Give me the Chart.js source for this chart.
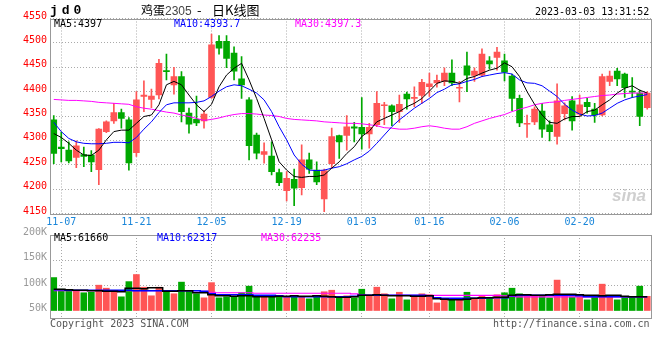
<!DOCTYPE html>
<html>
<head>
<meta charset="utf-8">
<script src="https://cdn.jsdelivr.net/npm/chart.js@4.4.1/dist/chart.umd.min.js"></script>
<style>
  body { margin: 0; background: #fff; }
  #wrap { position: relative; width: 660px; height: 360px; overflow: hidden; font-family: "DejaVu Sans Mono", monospace; font-size: 10px; }
  canvas { position: absolute; left: 0; }
  .t { position: absolute; white-space: nowrap; line-height: 12px; }
</style>
</head>
<body>
<div id="wrap">
  <canvas id="kline" width="660" height="232" style="top:0"></canvas>
  <canvas id="vol" width="660" height="108" style="top:220px"></canvas>

  <div class="t" style="left:50px;top:4px;font:bold 13px 'Liberation Mono';letter-spacing:4px;line-height:13px">jd0</div>
  <div class="t" style="left:141px;top:3px;font:12px 'Noto Sans CJK SC';line-height:14px">鸡蛋<span style="font:12px 'Liberation Sans';color:#444">2305</span></div>
  <div class="t" style="left:197px;top:3px;font:13px 'Noto Sans CJK SC';line-height:14px">-</div>
  <div class="t" style="left:212px;top:3px;font:13px 'Noto Sans CJK SC';line-height:14px">日K线图</div>
  <div class="t" style="left:535px;top:6px">2023-03-03 13:31:52</div>

  <div class="t" style="left:54px;top:18px;color:#000">MA5:4397</div>
  <div class="t" style="left:174px;top:18px;color:#0000ff">MA10:4393.7</div>
  <div class="t" style="left:295px;top:18px;color:#ff00ff">MA30:4397.3</div>

  <div class="t" style="left:54px;top:232px;color:#000">MA5:61660</div>
  <div class="t" style="left:157px;top:232px;color:#0000ff">MA10:62317</div>
  <div class="t" style="left:261px;top:232px;color:#ff00ff">MA30:62235</div>

  <div class="t" style="left:612px;top:186px;font:italic bold 17px 'Liberation Sans';color:#cfcfcf">sina</div>

  <div class="t" style="left:50px;top:318px;color:#555">Copyright 2023 SINA.COM</div>
  <div class="t" style="left:493px;top:318px;color:#555">http://finance.sina.com.cn</div>
</div>
<script>
// trading days 2022-11-04 .. 2023-03-03
const dates = [
  "11-04","11-07","11-08","11-09","11-10","11-11","11-14","11-15","11-16","11-17",
  "11-18","11-21","11-22","11-23","11-24","11-25","11-28","11-29","11-30","12-01",
  "12-02","12-05","12-06","12-07","12-08","12-09","12-12","12-13","12-14","12-15",
  "12-16","12-19","12-20","12-21","12-22","12-23","12-26","12-27","12-28","12-29",
  "12-30","01-03","01-04","01-05","01-06","01-09","01-10","01-11","01-12","01-13",
  "01-16","01-17","01-18","01-19","01-20","01-30","01-31","02-01","02-02","02-03",
  "02-06","02-07","02-08","02-09","02-10","02-13","02-14","02-15","02-16","02-17",
  "02-20","02-21","02-22","02-23","02-24","02-27","02-28","03-01","03-02","03-03"
];
const tickLabels = ["11-07","11-21","12-05","12-19","01-03","01-16","02-06","02-20"];

const open = [
  4342,4286,4280,4265,4271,4270,4240,4318,4340,4357, 4342,4275,4390,4384,4393,4443,4414,4431,4356,4343,
  4340,4388,4503,4503,4479,4426,4383,4311,4271,4268, 4234,4197,4220,4203,4260,4239,4180,4252,4310,4310,
  4328,4327,4313,4332,4371,4371,4359,4395,4386,4392, 4410,4418,4421,4438,4407,4453,4433,4434,4463,4470,
  4463,4432,4386,4333,4338,4360,4332,4308,4355,4381, 4354,4378,4364,4352,4421,4442,4436,4401,4397,4367
];
const high = [
  4351,4317,4297,4299,4286,4279,4324,4340,4376,4364, 4347,4400,4422,4405,4466,4477,4450,4441,4366,4391,
  4361,4518,4515,4515,4492,4472,4388,4315,4295,4297, 4241,4236,4241,4291,4274,4256,4241,4325,4311,4351,
  4337,4388,4335,4400,4378,4373,4393,4399,4410,4425, 4438,4434,4449,4465,4421,4481,4449,4488,4472,4491,
  4477,4436,4393,4352,4369,4376,4340,4416,4377,4390, 4393,4386,4376,4436,4442,4448,4438,4429,4403,4400
];
const low = [
  4252,4256,4254,4244,4246,4236,4209,4316,4335,4325, 4239,4267,4359,4367,4385,4424,4395,4338,4315,4330,
  4325,4386,4477,4449,4424,4386,4260,4262,4253,4229, 4207,4176,4166,4188,4232,4209,4154,4243,4263,4280,
  4297,4282,4284,4328,4332,4330,4337,4364,4369,4376, 4390,4409,4412,4412,4379,4400,4421,4431,4446,4444,
  4422,4361,4328,4306,4332,4306,4299,4292,4342,4321, 4349,4356,4337,4350,4412,4412,4388,4388,4330,4364
];
const close = [
  4273,4283,4258,4289,4267,4256,4323,4338,4357,4345, 4254,4383,4393,4391,4458,4441,4431,4359,4333,4336,
  4354,4496,4489,4468,4442,4414,4289,4274,4277,4236, 4213,4222,4202,4260,4241,4215,4238,4308,4297,4328,
  4325,4313,4327,4376,4372,4359,4374,4385,4388,4419, 4416,4423,4438,4418,4409,4434,4442,4477,4457,4481,
  4440,4386,4336,4334,4364,4323,4318,4381,4371,4340, 4373,4369,4352,4431,4432,4426,4408,4399,4349,4397
];
const ma5 = [
  4314,4306,4294,4280,4270,4269,4280,4301,4318,4321, 4321,4335,4349,4352,4373,4414,4421,4414,4393,4373,
  4359,4374,4410,4434,4448,4458,4424,4386,4345,4301, 4256,4239,4226,4224,4226,4226,4229,4243,4256,4273,
  4287,4308,4319,4338,4345,4352,4359,4369,4376,4386, 4401,4417,4422,4421,4417,4427,4431,4438,4444,4448,
  4459,4451,4431,4400,4374,4352,4337,4335,4344,4349, 4349,4359,4362,4373,4383,4397,4407,4412,4403,4397
];
const ma10 = [
  4337,4318,4304,4297,4294,4293,4293,4294,4296,4296, 4295,4306,4323,4338,4357,4373,4377,4377,4377,4378,
  4381,4390,4401,4410,4414,4412,4405,4397,4383,4359, 4328,4301,4270,4251,4239,4238,4239,4243,4246,4252,
  4260,4267,4278,4294,4311,4328,4342,4354,4366,4376, 4386,4398,4405,4414,4416,4421,4425,4431,4434,4437,
  4439,4436,4424,4418,4417,4412,4401,4390,4374,4362, 4354,4350,4351,4356,4366,4376,4383,4388,4391,4394
];
const ma30 = [
  4384,4383,4382,4382,4381,4380,4378,4377,4376,4375, 4374,4369,4366,4364,4361,4358,4356,4352,4349,4345,
  4341,4343,4346,4350,4353,4355,4355,4354,4352,4351, 4349,4345,4343,4342,4341,4340,4338,4337,4336,4335,
  4335,4334,4332,4330,4326,4325,4323,4323,4325,4328, 4330,4328,4325,4323,4323,4328,4335,4340,4345,4349,
  4353,4359,4364,4368,4373,4376,4378,4379,4382,4384, 4386,4388,4390,4392,4393,4395,4396,4397,4397,4397
];

const volume = [
  116000,93000,89000,91000,86000,87000,101000,95000,89000,78000,
  108000,122000,97000,80000,97000,88000,84000,107000,89000,84000,
  76000,106000,76000,78000,79000,86000,99000,78000,78000,81000,
  81000,77000,81000,79000,74000,81000,88000,91000,78000,80000,
  76000,93000,79000,97000,84000,74000,87000,72000,80000,84000,
  82000,66000,74000,75000,72000,87000,74000,81000,75000,82000,
  86000,95000,84000,80000,80000,80000,76000,111000,79000,78000,
  77000,72000,78000,103000,79000,72000,78000,78000,99000,79000
];
const vma5 = [
  93000,93000,92000,91000,91000,90000,90000,89000,89000,88000,
  95000,95000,94000,96000,96000,89000,89000,90000,90000,86000,
  86000,82000,80000,80000,79000,80000,80000,78000,78000,78000,
  79000,79000,80000,79000,79000,80000,79000,78000,77000,77000,
  78000,81000,81000,82000,81000,80000,80000,80000,79000,79000,
  80000,74000,73000,72000,72000,73000,75000,76000,76000,77000,
  77000,81000,82000,82000,81000,81000,82000,83000,83000,83000,
  82000,81000,81000,80000,81000,81000,79000,78000,78000,78000
];
const vma10 = [
  92000,92000,91000,91000,91000,91000,91000,91000,91000,91000,
  91000,90000,90000,90000,90000,90000,90000,90000,90000,90000,
  89000,84000,82000,82000,82000,82000,82000,81000,81000,81000,
  80000,78000,78000,78000,78000,78000,78000,78000,78000,78000,
  79000,81000,81000,81000,81000,81000,81000,81000,81000,81000,
  80000,76000,75000,75000,75000,75000,75000,75000,76000,76000,
  76000,80000,81000,81000,81000,81000,81000,81000,81000,81000,
  80000,78000,78000,78000,78000,78000,78000,78000,78000,78000
];
const vma30 = [
  90000,90000,90000,90000,90000,90000,90000,90000,90000,90000,
  90000,90000,90000,90000,90000,90000,90000,90000,90000,90000,
  89000,87000,86000,86000,86000,86000,86000,85000,85000,85000,
  85000,85000,85000,85000,85000,85000,85000,85000,85000,85000,
  84000,82000,81000,81000,81000,81000,81000,81000,81000,81000,
  81000,81000,81000,81000,81000,81000,81000,81000,81000,81000,
  80000,79000,78000,78000,78000,78000,78000,78000,78000,78000,
  78000,78000,78000,78000,78000,78000,78000,78000,78000,78000
];
const volTicks = [50000, 100000, 150000, 200000];

const RED = "#ff5555";
const GREEN = "#00a800";
const barColors = close.map((c, i) => (c >= open[i] ? RED : GREEN));

Chart.defaults.font.family = "'DejaVu Sans Mono', monospace";
Chart.defaults.font.size = 10;
Chart.defaults.color = "#000";

const frame = {
  id: "frame",
  afterDraw(chart) {
    const a = chart.chartArea;
    const c = chart.ctx;
    c.save();
    c.strokeStyle = "#999";
    c.lineWidth = 1;
    c.strokeRect(Math.round(a.left) + 0.5, Math.round(a.top) + 0.5,
                 Math.round(a.right - a.left), Math.round(a.bottom - a.top));
    c.restore();
  }
};

function xGridColor(ctx) {
  return tickLabels.includes(dates[ctx.index]) ? "#aaa" : "rgba(0,0,0,0)";
}

function maLine(data, color, width, stepped) {
  return {
    type: "line",
    data: data,
    borderColor: color,
    borderWidth: width,
    pointRadius: 0,
    tension: 0,
    stepped: stepped || false,
    order: 1
  };
}

// price (candles)
new Chart(document.getElementById("kline"), {
  type: "bar",
  data: {
    labels: dates,
    datasets: [
      maLine(ma5, "#000000", 1),
      maLine(ma10, "#0000ff", 1),
      maLine(ma30, "#ff00ff", 1),
      {
        data: dates.map((d, i) => [low[i], high[i]]),
        backgroundColor: barColors,
        barThickness: 1,
        grouped: false,
        order: 3
      },
      {
        data: dates.map((d, i) => [open[i], close[i]]),
        backgroundColor: barColors,
        barThickness: 6,
        minBarLength: 1,
        grouped: false,
        order: 2
      }
    ]
  },
  options: {
    responsive: false,
    animation: false,
    layout: { padding: { top: 18.5, right: 9, left: 0, bottom: 0 } },
    plugins: { legend: { display: false }, tooltip: { enabled: false } },
    scales: {
      x: {
        offset: true,
        grid: { offset: false, color: xGridColor, drawTicks: false },
        border: { display: false, dash: [1, 2] },
        ticks: {
          autoSkip: false,
          maxRotation: 0,
          padding: 3,
          color: "#1a86d9",
          callback: function (v, i) { return tickLabels.includes(dates[i]) ? dates[i] : ""; }
        },
        afterFit(scale) { scale.height = 18.5; }
      },
      y: {
        min: 4150,
        max: 4550,
        grid: { color: "#aaa", drawTicks: false },
        border: { display: false, dash: [1, 2] },
        ticks: { stepSize: 50, color: "#ff0000", padding: 3, labelOffset: -2.5, autoSkip: false, callback: v => String(v) },
        afterFit(scale) { scale.width = 50; }
      }
    }
  },
  plugins: [frame]
});

// volume
new Chart(document.getElementById("vol"), {
  type: "bar",
  data: {
    labels: dates,
    datasets: [
      maLine(vma5, "#000000", 1.5, "middle"),
      maLine(vma10, "#0000ff", 1.5, "middle"),
      maLine(vma30, "#ff00ff", 1.2, "middle"),
      {
        data: volume,
        base: 50000,
        backgroundColor: barColors,
        barThickness: 6,
        order: 2
      }
    ]
  },
  options: {
    responsive: false,
    animation: false,
    layout: { padding: { top: 15, right: 9, left: 0, bottom: 0 } },
    plugins: { legend: { display: false }, tooltip: { enabled: false } },
    scales: {
      x: {
        offset: true,
        grid: { offset: false, color: xGridColor, drawTicks: false },
        border: { display: false, dash: [1, 2] },
        ticks: { display: false },
        afterFit(scale) { scale.height = 10; }
      },
      y: {
        min: 36200,
        max: 200000,
        afterBuildTicks(scale) { scale.ticks = volTicks.map(v => ({ value: v })); },
        grid: {
          color: ctx => (ctx.tick && (ctx.tick.value === 100000 || ctx.tick.value === 150000) ? "#aaa" : "rgba(0,0,0,0)"),
          drawTicks: false
        },
        border: { display: false, dash: [1, 2] },
        ticks: {
          color: "#999",
          padding: 3,
          labelOffset: -2.5,
          autoSkip: false,
          callback: v => v / 1000 + "K"
        },
        afterFit(scale) { scale.width = 50; }
      }
    }
  },
  plugins: [frame]
});
</script>
</body>
</html>
